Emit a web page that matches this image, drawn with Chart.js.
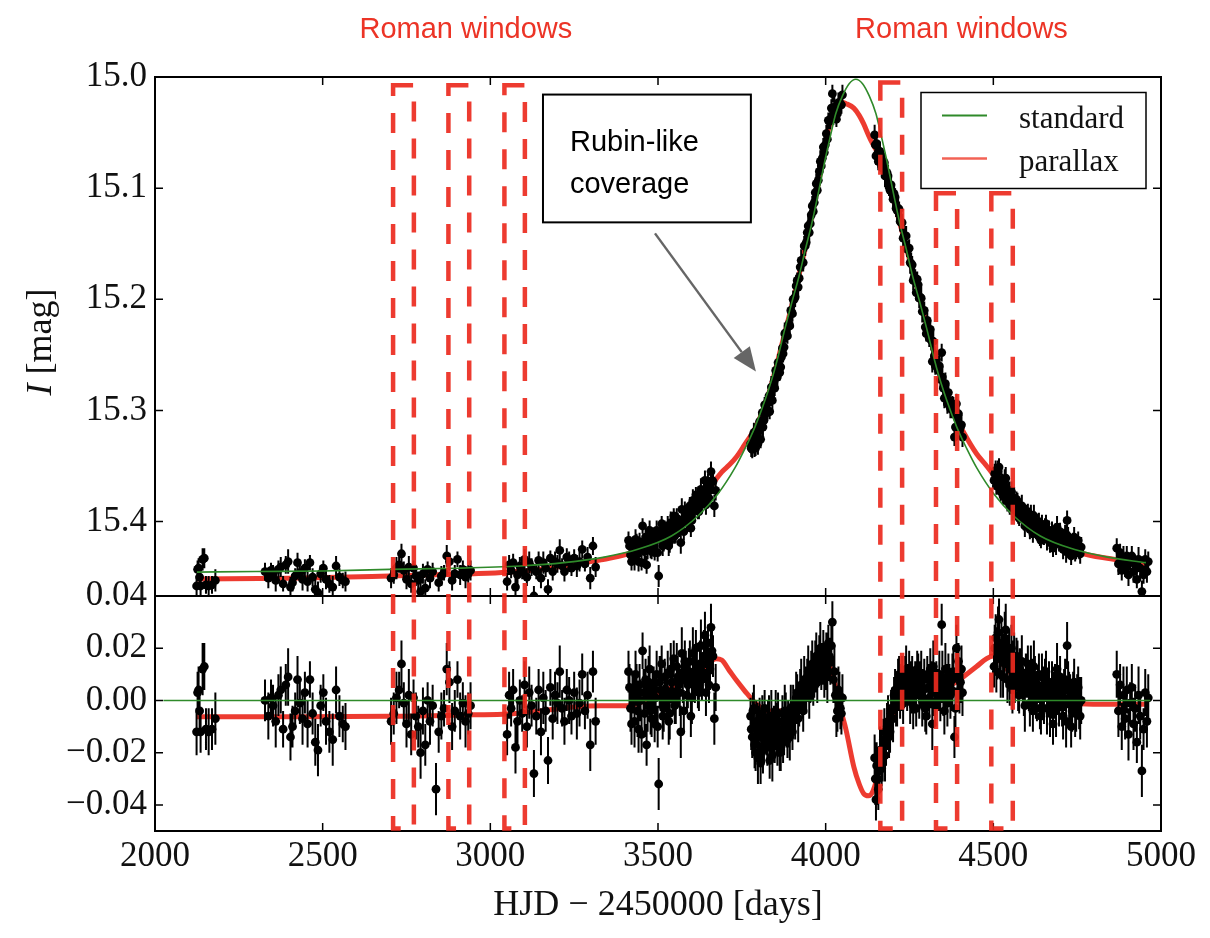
<!DOCTYPE html>
<html>
<head>
<meta charset="utf-8">
<title>Light curve with Roman windows</title>
<script src="https://cdn.jsdelivr.net/npm/chart.js@4.4.1/dist/chart.umd.min.js"></script>
<style>
  html, body { margin: 0; padding: 0; background: #fff; }
  #wrap { position: relative; width: 1210px; height: 938px; }
</style>
</head>
<body>
<div id="wrap"><canvas id="lc"></canvas></div>
<script>
// observations, one season per line (HJD - 2450000); the last four lines are the
// extra points of the densely sampled seasons
const obsDays = [
  2124, 2127, 2130, 2133, 2136, 2142, 2147, 2152, 2160, 2170, 2180,
  2328, 2338, 2346, 2352, 2360, 2368, 2375, 2382, 2390, 2397, 2404, 2410, 2418, 2425, 2432, 2440, 2447, 2455, 2462, 2470, 2478, 2486, 2494, 2502, 2510, 2520, 2530, 2540, 2550, 2560, 2568,
  2704, 2712, 2720, 2728, 2735, 2742, 2750, 2757, 2764, 2771, 2778, 2785, 2792, 2799, 2806, 2813, 2820, 2828, 2838, 2846, 2854, 2862, 2870, 2878, 2886, 2894, 2902, 2910, 2918, 2926, 2934, 2941,
  3050, 3056, 3062, 3068, 3075, 3081, 3088, 3095, 3102, 3109, 3116, 3123, 3130, 3137, 3144, 3151, 3158, 3165, 3172, 3179, 3186, 3193, 3200, 3207, 3214, 3221, 3228, 3235, 3242, 3250, 3258, 3266, 3274, 3282, 3290, 3298, 3306, 3314,
  3412, 3418, 3424, 3430, 3436, 3442, 3448, 3454, 3460, 3466, 3472, 3478, 3484, 3490, 3496, 3502, 3508, 3514, 3520, 3526, 3532, 3538, 3544, 3550, 3556, 3562, 3568, 3574, 3580, 3586, 3592, 3598, 3604, 3610, 3616, 3622, 3628, 3634, 3640, 3646, 3652, 3658, 3664, 3668, 3672,
  3776, 3781, 3786, 3791, 3796, 3801, 3806, 3811, 3816, 3821, 3826, 3831, 3836, 3841, 3846, 3851, 3856, 3861, 3866, 3871, 3876, 3881, 3886, 3891, 3896, 3901, 3906, 3912, 3918, 3924, 3930, 3936, 3942, 3948, 3954, 3960, 3966, 3972, 3978, 3984, 3990, 3996, 4002, 4008, 4014, 4020, 4026, 4032, 4038, 4044, 4050,
  4146, 4150, 4155, 4160, 4165, 4170, 4175, 4180, 4186, 4192, 4198, 4204, 4210, 4216, 4222, 4228, 4234, 4240, 4246, 4252, 4258, 4264, 4270, 4276, 4282, 4288, 4294, 4300, 4306, 4312, 4318, 4324, 4330, 4336, 4342, 4346, 4348, 4354, 4360, 4366, 4372, 4378, 4384, 4390, 4396, 4402, 4408,
  4502, 4507, 4512, 4517, 4522, 4527, 4532, 4537, 4542, 4547, 4552, 4557, 4562, 4567, 4572, 4577, 4582, 4588, 4594, 4600, 4606, 4612, 4618, 4624, 4630, 4636, 4642, 4648, 4654, 4660, 4666, 4672, 4678, 4684, 4690, 4696, 4702, 4708, 4714, 4720, 4726, 4732, 4738, 4744, 4750, 4756, 4762,
  4868, 4873, 4878, 4883, 4888, 4893, 4898, 4903, 4908, 4913, 4918, 4923, 4928, 4933, 4938, 4943, 4948, 4953, 4958, 4962,
  3415, 3421, 3427, 3433, 3439, 3445, 3451, 3457, 3463, 3469, 3475, 3481, 3487, 3493, 3499, 3505, 3511, 3517, 3523, 3529, 3535, 3541, 3547, 3553, 3559, 3565, 3571, 3577, 3583, 3589, 3595, 3601, 3607, 3613, 3619, 3625, 3631, 3637, 3643, 3649, 3655, 3661,
  3778, 3783, 3788, 3793, 3798, 3803, 3808, 3813, 3818, 3823, 3828, 3833, 3838, 3843, 3848, 3853, 3858, 3863, 3868, 3873, 3878, 3883, 3888, 3893, 3898, 3903, 3909, 3915, 3921, 3927, 3933, 3939, 3945, 3951, 3957, 3963, 3969, 3975, 3981, 3987, 3993, 3999, 4005, 4011, 4017, 4023, 4029, 4035, 4041, 4047,
  4148, 4152, 4157, 4162, 4167, 4172, 4177, 4183, 4189, 4195, 4201, 4207, 4213, 4219, 4225, 4231, 4237, 4243, 4249, 4255, 4261, 4267, 4273, 4279, 4285, 4291, 4297, 4303, 4309, 4315, 4321, 4327, 4333, 4339, 4351, 4357, 4363, 4369, 4375, 4381, 4387, 4393, 4399, 4405,
  4504, 4509, 4514, 4519, 4524, 4529, 4534, 4539, 4544, 4549, 4554, 4559, 4564, 4569, 4574, 4579, 4585, 4591, 4597, 4603, 4609, 4615, 4621, 4627, 4633, 4639, 4645, 4651, 4657, 4663, 4669, 4675, 4681, 4687, 4693, 4699, 4705, 4711, 4717, 4723, 4729, 4735, 4741, 4747, 4753, 4759
];
// I magnitude
const obsMag = [
  15.458, 15.443, 15.442, 15.450, 15.458, 15.434, 15.433, 15.457, 15.458, 15.457, 15.453,
  15.445, 15.451, 15.444, 15.447, 15.453, 15.443, 15.441, 15.456, 15.439, 15.436, 15.459, 15.455, 15.449, 15.437, 15.446, 15.452, 15.442, 15.454, 15.437, 15.450, 15.461, 15.464, 15.447, 15.442, 15.452, 15.456, 15.459, 15.440, 15.450, 15.453, 15.454,
  15.451, 15.448, 15.442, 15.439, 15.429, 15.444, 15.452, 15.441, 15.456, 15.442, 15.449, 15.453, 15.463, 15.447, 15.460, 15.443, 15.451, 15.445, 15.477, 15.455, 15.449, 15.446, 15.431, 15.436, 15.453, 15.447, 15.434, 15.448, 15.443, 15.450, 15.447, 15.444,
  15.454, 15.439, 15.444, 15.437, 15.459, 15.448, 15.440, 15.445, 15.434, 15.450, 15.437, 15.441, 15.467, 15.445, 15.435, 15.451, 15.437, 15.442, 15.461, 15.433, 15.445, 15.436, 15.438, 15.426, 15.440, 15.445, 15.432, 15.436, 15.442, 15.433, 15.440, 15.436, 15.425, 15.438, 15.432, 15.451, 15.422, 15.441,
  15.417, 15.430, 15.422, 15.434, 15.419, 15.436, 15.424, 15.404, 15.427, 15.439, 15.414, 15.424, 15.416, 15.428, 15.408, 15.449, 15.413, 15.422, 15.406, 15.413, 15.422, 15.401, 15.409, 15.413, 15.397, 15.403, 15.419, 15.398, 15.390, 15.401, 15.391, 15.406, 15.381, 15.390, 15.383, 15.391, 15.371, 15.380, 15.363, 15.373, 15.379, 15.355, 15.364, 15.386, 15.372,
  15.330, 15.335, 15.320, 15.334, 15.319, 15.318, 15.326, 15.302, 15.309, 15.299, 15.302, 15.287, 15.288, 15.291, 15.274, 15.264, 15.270, 15.259, 15.261, 15.244, 15.243, 15.230, 15.233, 15.222, 15.210, 15.213, 15.200, 15.188, 15.189, 15.171, 15.167, 15.152, 15.149, 15.134, 15.132, 15.116, 15.113, 15.096, 15.093, 15.076, 15.073, 15.068, 15.051, 15.039, 15.038, 15.015, 15.027, 15.038, 15.023, 15.025, 15.016,
  15.052, 15.071, 15.069, 15.072, 15.072, 15.082, 15.077, 15.089, 15.089, 15.102, 15.103, 15.105, 15.118, 15.118, 15.130, 15.131, 15.143, 15.143, 15.155, 15.167, 15.169, 15.180, 15.194, 15.187, 15.198, 15.211, 15.210, 15.231, 15.227, 15.227, 15.256, 15.251, 15.254, 15.264, 15.272, 15.248, 15.270, 15.289, 15.284, 15.284, 15.298, 15.297, 15.324, 15.294, 15.303, 15.315, 15.324,
  15.363, 15.354, 15.362, 15.351, 15.373, 15.364, 15.372, 15.361, 15.382, 15.372, 15.380, 15.390, 15.379, 15.387, 15.383, 15.397, 15.389, 15.395, 15.404, 15.395, 15.402, 15.394, 15.411, 15.401, 15.408, 15.400, 15.417, 15.408, 15.405, 15.416, 15.408, 15.415, 15.424, 15.411, 15.405, 15.419, 15.415, 15.425, 15.411, 15.399, 15.419, 15.431, 15.417, 15.427, 15.420, 15.424, 15.423,
  15.424, 15.438, 15.428, 15.444, 15.433, 15.442, 15.431, 15.448, 15.436, 15.431, 15.445, 15.439, 15.452, 15.434, 15.442, 15.463, 15.448, 15.434, 15.445, 15.436,
  15.422, 15.436, 15.424, 15.416, 15.429, 15.418, 15.437, 15.420, 15.414, 15.424, 15.408, 15.427, 15.414, 15.417, 15.428, 15.410, 15.402, 15.418, 15.411, 15.404, 15.418, 15.405, 15.395, 15.410, 15.400, 15.405, 15.389, 15.409, 15.392, 15.397, 15.386, 15.399, 15.387, 15.376, 15.390, 15.379, 15.383, 15.372, 15.385, 15.364, 15.372, 15.363,
  15.334, 15.323, 15.333, 15.320, 15.330, 15.310, 15.314, 15.315, 15.295, 15.300, 15.291, 15.301, 15.279, 15.280, 15.280, 15.268, 15.257, 15.266, 15.252, 15.249, 15.231, 15.232, 15.224, 15.224, 15.211, 15.200, 15.198, 15.183, 15.181, 15.165, 15.167, 15.152, 15.140, 15.140, 15.124, 15.121, 15.104, 15.102, 15.085, 15.080, 15.063, 15.061, 15.056, 15.040, 15.028, 15.034, 15.033, 15.033, 15.023, 15.025,
  15.061, 15.060, 15.076, 15.067, 15.080, 15.076, 15.089, 15.086, 15.099, 15.097, 15.110, 15.108, 15.120, 15.119, 15.131, 15.145, 15.143, 15.155, 15.154, 15.168, 15.183, 15.181, 15.182, 15.199, 15.199, 15.211, 15.225, 15.219, 15.235, 15.237, 15.238, 15.260, 15.259, 15.260, 15.280, 15.276, 15.294, 15.291, 15.299, 15.297, 15.315, 15.307, 15.318, 15.313,
  15.357, 15.368, 15.355, 15.367, 15.362, 15.377, 15.363, 15.375, 15.372, 15.386, 15.373, 15.382, 15.389, 15.380, 15.393, 15.387, 15.386, 15.399, 15.393, 15.391, 15.407, 15.399, 15.395, 15.407, 15.404, 15.414, 15.403, 15.411, 15.402, 15.410, 15.419, 15.408, 15.414, 15.420, 15.411, 15.409, 15.419, 15.415, 15.427, 15.414, 15.417, 15.425, 15.414, 15.424, 15.417, 15.429
];
// residuals from the standard model (mag)
const obsRes = [
  -0.012, 0.003, 0.004, -0.004, -0.012, 0.012, 0.013, -0.011, -0.012, -0.011, -0.007,
  0.000, -0.006, 0.001, -0.002, -0.008, 0.002, 0.004, -0.011, 0.006, 0.009, -0.014, -0.010, -0.004, 0.008, -0.001, -0.007, 0.003, -0.009, 0.008, -0.005, -0.016, -0.019, -0.002, 0.003, -0.008, -0.012, -0.015, 0.004, -0.006, -0.009, -0.010,
  -0.008, -0.005, 0.001, 0.004, 0.014, -0.001, -0.009, 0.002, -0.013, 0.001, -0.006, -0.010, -0.020, -0.004, -0.017, 0.000, -0.008, -0.002, -0.034, -0.012, -0.006, -0.003, 0.012, 0.007, -0.010, -0.004, 0.008, -0.006, -0.001, -0.008, -0.005, -0.002,
  -0.013, 0.002, -0.003, 0.004, -0.018, -0.008, 0.000, -0.005, 0.006, -0.010, 0.003, -0.002, -0.028, -0.006, 0.004, -0.012, 0.001, -0.004, -0.023, 0.005, -0.007, 0.002, -0.001, 0.011, -0.003, -0.008, 0.004, 0.000, -0.006, 0.003, -0.005, -0.001, 0.010, -0.004, 0.002, -0.017, 0.011, -0.008,
  0.011, -0.003, 0.004, -0.008, 0.006, -0.011, 0.000, 0.019, -0.005, -0.017, 0.007, -0.004, 0.003, -0.009, 0.010, -0.032, 0.004, -0.006, 0.009, 0.001, -0.008, 0.012, 0.003, -0.002, 0.013, 0.006, -0.012, 0.008, 0.015, 0.002, 0.011, -0.006, 0.018, 0.007, 0.013, 0.003, 0.021, 0.010, 0.025, 0.014, 0.006, 0.028, 0.017, -0.007, 0.005,
  -0.006, -0.014, -0.003, -0.020, -0.009, -0.012, -0.024, -0.005, -0.015, -0.010, -0.018, -0.007, -0.013, -0.021, -0.009, -0.004, -0.016, -0.011, -0.019, -0.008, -0.013, -0.006, -0.015, -0.010, -0.003, -0.012, -0.005, 0.001, -0.007, 0.004, 0.000, 0.008, 0.003, 0.011, 0.006, 0.014, 0.009, 0.017, 0.012, 0.020, 0.014, 0.010, 0.018, 0.022, 0.015, 0.030, 0.011, -0.007, 0.004, -0.003, 0.001,
  -0.022, -0.038, -0.030, -0.027, -0.020, -0.024, -0.012, -0.017, -0.008, -0.012, -0.004, 0.002, -0.002, 0.006, 0.002, 0.009, 0.004, 0.012, 0.006, 0.001, 0.009, 0.004, -0.003, 0.010, 0.006, 0.000, 0.008, -0.006, 0.005, 0.012, -0.009, 0.003, 0.007, 0.003, 0.001, 0.029, 0.009, -0.004, 0.006, 0.011, 0.002, 0.008, -0.014, 0.020, 0.015, 0.007, 0.003,
  0.013, 0.024, 0.018, 0.031, 0.010, 0.021, 0.015, 0.027, 0.008, 0.019, 0.012, 0.004, 0.016, 0.009, 0.014, 0.002, 0.011, 0.006, -0.002, 0.009, 0.003, 0.012, -0.004, 0.007, 0.001, 0.010, -0.006, 0.004, 0.008, -0.003, 0.006, 0.000, -0.009, 0.005, 0.012, -0.002, 0.003, -0.006, 0.008, 0.021, 0.001, -0.010, 0.004, -0.005, 0.002, -0.001, 0.000,
  0.010, -0.004, 0.006, -0.010, 0.002, -0.007, 0.004, -0.013, -0.001, 0.005, -0.009, -0.003, -0.016, 0.002, -0.006, -0.027, -0.011, 0.003, -0.008, 0.001,
  0.005, -0.009, 0.002, 0.010, -0.004, 0.006, -0.013, 0.003, 0.008, -0.002, 0.012, -0.007, 0.005, 0.001, -0.010, 0.007, 0.014, -0.003, 0.004, 0.010, -0.005, 0.007, 0.016, 0.000, 0.009, 0.003, 0.018, -0.004, 0.012, 0.006, 0.015, 0.001, 0.011, 0.020, 0.005, 0.014, 0.008, 0.017, 0.003, 0.022, 0.012, 0.019,
  -0.011, -0.004, -0.017, -0.008, -0.022, -0.006, -0.014, -0.019, -0.003, -0.013, -0.009, -0.023, -0.006, -0.012, -0.017, -0.010, -0.005, -0.020, -0.012, -0.016, -0.004, -0.011, -0.008, -0.014, -0.007, -0.002, -0.006, 0.003, -0.002, 0.006, -0.004, 0.004, 0.009, 0.001, 0.010, 0.005, 0.013, 0.007, 0.016, 0.011, 0.019, 0.013, 0.009, 0.017, 0.021, 0.008, 0.002, -0.004, 0.002, -0.005,
  -0.030, -0.025, -0.034, -0.019, -0.026, -0.015, -0.021, -0.010, -0.014, -0.003, -0.007, 0.004, 0.000, 0.010, 0.005, -0.001, 0.008, 0.003, 0.011, 0.005, -0.002, 0.007, 0.012, 0.002, 0.009, 0.004, -0.003, 0.010, 0.001, 0.006, 0.013, -0.002, 0.005, 0.010, 0.002, 0.012, -0.001, 0.007, 0.004, 0.011, -0.003, 0.009, 0.002, 0.012,
  0.020, 0.011, 0.026, 0.016, 0.022, 0.009, 0.024, 0.014, 0.018, 0.006, 0.020, 0.013, 0.007, 0.017, 0.005, 0.012, 0.015, 0.003, 0.010, 0.014, -0.001, 0.008, 0.013, 0.002, 0.006, -0.003, 0.009, 0.001, 0.011, 0.004, -0.005, 0.007, 0.002, -0.004, 0.006, 0.009, -0.001, 0.004, -0.008, 0.006, 0.003, -0.004, 0.007, -0.002, 0.005, -0.006
];
// photometric errors (mmag)
const obsErrMmag = [
  9, 8, 9, 7, 8, 10, 9, 8, 9, 8, 10,
  8, 9, 7, 8, 10, 8, 9, 7, 8, 11, 9, 8, 7, 9, 8, 10, 8, 9, 7, 8, 9, 10, 8, 7, 9, 8, 10, 9, 8, 7, 9,
  9, 8, 10, 7, 9, 8, 9, 10, 8, 7, 9, 8, 10, 9, 8, 7, 9, 8, 10, 8, 9, 7, 10, 8, 9, 8, 7, 9, 8, 10, 8, 9,
  8, 9, 7, 8, 10, 9, 8, 7, 9, 8, 10, 8, 9, 7, 8, 9, 10, 8, 9, 7, 8, 9, 8, 10, 7, 9, 8, 9, 7, 8, 10, 9, 8, 7, 9, 10, 8, 9,
  8, 9, 7, 10, 8, 9, 8, 7, 9, 8, 10, 9, 8, 7, 9, 10, 8, 9, 7, 8, 9, 10, 8, 7, 9, 8, 10, 9, 8, 7, 9, 8, 10, 8, 9, 7, 10, 8, 9, 8, 7, 9, 8, 10, 9,
  7, 8, 9, 7, 8, 10, 8, 7, 9, 8, 7, 9, 8, 10, 7, 8, 9, 7, 8, 10, 8, 9, 7, 8, 9, 7, 8, 10, 9, 8, 7, 9, 8, 10, 7, 9, 8, 9, 7, 10, 8, 9, 8, 7, 9, 8, 10, 7, 9, 8, 9,
  9, 8, 10, 9, 8, 7, 9, 8, 10, 8, 9, 7, 8, 10, 9, 8, 7, 9, 8, 10, 8, 9, 7, 8, 9, 10, 8, 7, 9, 8, 10, 9, 8, 7, 9, 8, 10, 9, 8, 7, 9, 10, 8, 9, 7, 8, 9,
  8, 9, 10, 8, 9, 7, 8, 10, 9, 8, 7, 9, 10, 8, 9, 7, 8, 9, 10, 8, 7, 9, 8, 10, 9, 8, 7, 9, 8, 10, 9, 7, 8, 9, 10, 8, 7, 9, 8, 9, 10, 8, 7, 9, 8, 10, 9,
  9, 10, 8, 9, 11, 8, 9, 10, 8, 9, 10, 9, 8, 11, 9, 10, 8, 9, 10, 9,
  9, 8, 7, 9, 10, 8, 7, 9, 8, 10, 9, 7, 8, 9, 8, 10, 7, 9, 8, 9, 10, 8, 7, 9, 8, 9, 10, 8, 7, 9, 8, 10, 9, 7, 8, 9, 8, 10, 9, 7, 8, 9,
  8, 7, 9, 8, 10, 7, 8, 9, 7, 8, 9, 7, 10, 8, 7, 9, 8, 7, 9, 8, 10, 7, 8, 9, 7, 8, 9, 7, 8, 10, 8, 9, 7, 8, 9, 7, 10, 8, 9, 7, 8, 9, 10, 7, 8, 9, 7, 8, 9, 8,
  10, 9, 8, 9, 7, 8, 10, 9, 8, 7, 9, 8, 10, 7, 9, 8, 9, 7, 8, 10, 9, 8, 7, 9, 10, 8, 9, 7, 8, 9, 10, 8, 7, 9, 8, 10, 9, 7, 8, 9, 8, 10, 7, 9,
  9, 8, 10, 7, 9, 8, 10, 9, 7, 8, 9, 10, 8, 7, 9, 8, 10, 9, 8, 7, 9, 8, 10, 9, 7, 8, 9, 10, 8, 7, 9, 8, 9, 10, 7, 8, 9, 8, 10, 9, 7, 8, 9, 10, 8, 9
];

// standard (no parallax) model
const stdDays = [2125, 2300, 2500, 2700, 2900, 3090, 3220, 3340, 3440, 3540, 3619, 3679, 3729, 3760, 3789, 3820, 3849, 3879, 3898, 3920, 3938, 3960, 3979, 4000, 4018, 4030, 4050, 4070, 4090, 4110, 4130, 4150, 4162, 4180, 4201, 4220, 4242, 4260, 4282, 4301, 4331, 4360, 4391, 4420, 4451, 4501, 4561, 4640, 4740, 4840, 4955];
const stdMag = [15.4455, 15.445, 15.4445, 15.443, 15.442, 15.440, 15.437, 15.432, 15.425, 15.413, 15.395, 15.375, 15.352, 15.334, 15.315, 15.290, 15.262, 15.226, 15.204, 15.180, 15.157, 15.130, 15.103, 15.072, 15.048, 15.033, 15.017, 15.006, 15.002, 15.006, 15.017, 15.033, 15.048, 15.072, 15.103, 15.130, 15.157, 15.180, 15.204, 15.226, 15.262, 15.290, 15.315, 15.334, 15.352, 15.375, 15.395, 15.413, 15.425, 15.432, 15.437];
// parallax model
const parDays = [2125, 2400, 2700, 2950, 3050, 3150, 3250, 3330, 3410, 3480, 3540, 3600, 3640, 3673, 3690, 3713, 3735, 3758, 3793, 3830, 3870, 3910, 3950, 3985, 4009, 4020, 4038, 4050, 4061, 4084, 4100, 4113, 4128, 4140, 4153, 4170, 4190, 4210, 4240, 4280, 4340, 4390, 4410, 4450, 4480, 4500, 4540, 4580, 4630, 4700, 4760, 4850, 4955];
const parMag = [15.4517, 15.451, 15.449, 15.447, 15.4457, 15.443, 15.4385, 15.4345, 15.429, 15.420, 15.408, 15.390, 15.376, 15.362, 15.3555, 15.349, 15.3415, 15.331, 15.314, 15.285, 15.240, 15.192, 15.138, 15.085, 15.046, 15.034, 15.027, 15.023, 15.024, 15.028, 15.0345, 15.042, 15.0525, 15.060, 15.067, 15.079, 15.098, 15.119, 15.153, 15.198, 15.266, 15.307, 15.319, 15.339, 15.350, 15.358, 15.377, 15.392, 15.408, 15.421, 15.4283, 15.4335, 15.4385];
const parRes = [-0.0062, -0.0062, -0.0061, -0.0055, -0.0052, -0.0040, -0.0025, -0.0020, -0.0020, 0.0010, 0.0050, 0.0090, 0.0130, 0.0160, 0.0155, 0.0114, 0.0075, 0.0038, -0.0013, -0.0040, -0.0040, -0.0010, 0.0040, 0.0090, 0.0127, 0.0110, 0.0000, -0.0060, -0.0114, -0.0254, -0.0320, -0.0356, -0.0365, -0.0350, -0.0300, -0.0210, -0.0110, -0.0030, 0.0020, 0.0040, 0.0050, 0.0070, 0.0090, 0.0130, 0.0160, 0.0170, 0.0120, 0.0070, 0.0030, 0.0000, -0.0013, -0.0015, -0.0015];
const stdResDays = [2025, 4968];
const stdRes = [0, 0];

// Roman observing windows
const romanStart = [2710, 2875, 3042, 4163, 4329, 4494];
const romanEnd = [2772, 2937, 3103, 4228, 4392, 4558];
const romanTopMag = [15.0075, 15.0075, 15.0075, 15.005, 15.1045, 15.1045];
const romanBottomRes = -0.049;
const romanLabelDays = [2927, 4405];

const RED = 'rgba(236, 42, 30, 0.92)';
const RED_LEGEND = 'rgba(240, 70, 55, 0.85)';
const GREEN = '#2f8a2a';
const INK = '#111';
const SERIF = '"Liberation Serif", "Times New Roman", serif';
const SANS = '"Liberation Sans", Arial, sans-serif';

Chart.defaults.font.family = SERIF;

function pts(xs, ys) {
  return xs.map((x, i) => ({ x: x, y: ys[i] }));
}

const errs = obsErrMmag.map(e => e / 1000);

function lineSet(label, xs, ys, axis, color, width, order) {
  return {
    label: label, data: pts(xs, ys), yAxisID: axis, showLine: true,
    borderColor: color, borderWidth: width, pointRadius: 0, fill: false,
    cubicInterpolationMode: 'monotone', order: order
  };
}

function dotSet(label, ys, axis) {
  return {
    label: label, data: pts(obsDays, ys), yAxisID: axis,
    pointRadius: 4.4, pointBackgroundColor: '#000', pointBorderWidth: 0,
    errors: errs, order: 1
  };
}

const figurePlugin = {
  id: 'figure',
  beforeDatasetDraw(chart, args) {
    const ctx = chart.ctx;
    const xs = args.meta.xScale, ys = args.meta.yScale;
    ctx.save();
    ctx.beginPath();
    ctx.rect(xs.left, ys.top, xs.right - xs.left, ys.bottom - ys.top);
    ctx.clip();
    const ds = chart.data.datasets[args.index];
    if (!ds.errors) return;
    ctx.strokeStyle = '#000';
    ctx.lineWidth = 2;
    ctx.beginPath();
    ds.data.forEach((p, i) => {
      const e = ds.errors[i];
      if (e == null) return;
      const x = xs.getPixelForValue(p.x);
      ctx.moveTo(x, ys.getPixelForValue(p.y - e));
      ctx.lineTo(x, ys.getPixelForValue(p.y + e));
    });
    ctx.stroke();
  },
  afterDatasetDraw(chart) {
    chart.ctx.restore();
  },
  afterDraw(chart) {
    const ctx = chart.ctx;
    const x = chart.scales.x, yM = chart.scales.yMag, yR = chart.scales.yRes;
    ctx.save();

    // panel frames with inward ticks
    [yM, yR].forEach(ys => {
      ctx.strokeStyle = '#000';
      ctx.lineWidth = 2;
      ctx.strokeRect(x.left, ys.top, x.right - x.left, ys.bottom - ys.top);
      ctx.lineWidth = 1.5;
      ctx.beginPath();
      x.ticks.forEach(t => {
        const p = x.getPixelForValue(t.value);
        ctx.moveTo(p, ys.top); ctx.lineTo(p, ys.top + 8);
        ctx.moveTo(p, ys.bottom); ctx.lineTo(p, ys.bottom - 8);
      });
      ys.ticks.forEach(t => {
        const p = ys.getPixelForValue(t.value);
        ctx.moveTo(x.left, p); ctx.lineTo(x.left + 8, p);
        ctx.moveTo(x.right, p); ctx.lineTo(x.right - 8, p);
      });
      ctx.stroke();
    });

    // Roman windows
    ctx.strokeStyle = RED;
    ctx.lineWidth = 4.5;
    ctx.setLineDash([20, 17]);
    romanStart.forEach((s, i) => {
      const l = x.getPixelForValue(s), r = x.getPixelForValue(romanEnd[i]);
      const t = yM.getPixelForValue(romanTopMag[i]), b = yR.getPixelForValue(romanBottomRes);
      ctx.strokeRect(l, t, r - l, b - t);
    });
    ctx.setLineDash([]);
    ctx.fillStyle = 'rgb(236, 52, 38)';
    ctx.font = '29px ' + SANS;
    ctx.textAlign = 'center';
    ctx.textBaseline = 'alphabetic';
    romanLabelDays.forEach(d => ctx.fillText('Roman windows', x.getPixelForValue(d), 38));

    // Rubin annotation
    const bx1 = x.getPixelForValue(3157), bx2 = x.getPixelForValue(3777);
    const by1 = yM.getPixelForValue(15.0158), by2 = yM.getPixelForValue(15.1308);
    ctx.fillStyle = '#fff';
    ctx.fillRect(bx1, by1, bx2 - bx1, by2 - by1);
    ctx.strokeStyle = '#000';
    ctx.lineWidth = 2;
    ctx.strokeRect(bx1, by1, bx2 - bx1, by2 - by1);
    ctx.fillStyle = '#000';
    ctx.textAlign = 'left';
    ctx.fillText('Rubin-like', bx1 + 27, by1 + 56);
    ctx.fillText('coverage', bx1 + 27, by1 + 98);

    const ax1 = x.getPixelForValue(3491), ay1 = yM.getPixelForValue(15.1407);
    const ax2 = x.getPixelForValue(3792), ay2 = yM.getPixelForValue(15.265);
    const ang = Math.atan2(ay2 - ay1, ax2 - ax1);
    const hl = 24, hw = 10;
    ctx.strokeStyle = '#666';
    ctx.fillStyle = '#666';
    ctx.lineWidth = 2.5;
    ctx.beginPath();
    ctx.moveTo(ax1, ay1);
    ctx.lineTo(ax2 - hl * Math.cos(ang), ay2 - hl * Math.sin(ang));
    ctx.stroke();
    ctx.beginPath();
    ctx.moveTo(ax2, ay2);
    ctx.lineTo(ax2 - hl * Math.cos(ang) + hw * Math.sin(ang), ay2 - hl * Math.sin(ang) - hw * Math.cos(ang));
    ctx.lineTo(ax2 - hl * Math.cos(ang) - hw * Math.sin(ang), ay2 - hl * Math.sin(ang) + hw * Math.cos(ang));
    ctx.closePath();
    ctx.fill();

    // legend
    const lw = 225, lh = 96;
    const lx = x.right - 15 - lw, ly = yM.top + 15.5;
    ctx.fillStyle = '#fff';
    ctx.fillRect(lx, ly, lw, lh);
    ctx.strokeStyle = '#000';
    ctx.lineWidth = 1.5;
    ctx.strokeRect(lx, ly, lw, lh);
    const items = [
      { text: chart.data.datasets[0].label, color: GREEN, width: 2, dy: 23 },
      { text: chart.data.datasets[2].label, color: RED_LEGEND, width: 2.5, dy: 66 }
    ];
    ctx.font = '31px ' + SERIF;
    items.forEach(it => {
      ctx.strokeStyle = it.color;
      ctx.lineWidth = it.width;
      ctx.beginPath();
      ctx.moveTo(lx + 21, ly + it.dy);
      ctx.lineTo(lx + 66, ly + it.dy);
      ctx.stroke();
      ctx.fillStyle = INK;
      ctx.fillText(it.text, lx + 98, ly + it.dy + 12);
    });

    // y title of the top panel: italic I
    ctx.save();
    ctx.translate(42, 342);
    ctx.rotate(-Math.PI / 2);
    ctx.textBaseline = 'middle';
    ctx.textAlign = 'left';
    const fi = 'italic 36px ' + SERIF, fr = '36px ' + SERIF;
    ctx.font = fi;
    const w1 = ctx.measureText('I').width;
    ctx.font = fr;
    const w2 = ctx.measureText(' [mag]').width;
    const s = -(w1 + w2) / 2;
    ctx.fillStyle = INK;
    ctx.font = fi;
    ctx.fillText('I', s, 0);
    ctx.font = fr;
    ctx.fillText(' [mag]', s + w1, 0);
    ctx.restore();

    ctx.restore();
  }
};

function resLabel(v) {
  if (Math.abs(v) < 1e-9) return '0.00';
  return (v < 0 ? '\u2212' : '') + Math.abs(v).toFixed(2);
}

new Chart(document.getElementById('lc'), {
  type: 'scatter',
  data: {
    datasets: [
      lineSet('standard', stdDays, stdMag, 'yMag', GREEN, 1.6, 0),
      dotSet('data', obsMag, 'yMag'),
      lineSet('parallax', parDays, parMag, 'yMag', RED, 5, 2),
      lineSet('standard res', stdResDays, stdRes, 'yRes', GREEN, 1.6, 0),
      dotSet('data res', obsRes, 'yRes'),
      lineSet('parallax res', parDays, parRes, 'yRes', RED, 5, 2)
    ]
  },
  options: {
    responsive: true,
    maintainAspectRatio: false,
    animation: false,
    events: [],
    layout: { padding: { left: 0, right: 49, top: 77, bottom: 0 } },
    plugins: { legend: { display: false }, tooltip: { enabled: false } },
    scales: {
      x: {
        type: 'linear', position: 'bottom', min: 2000, max: 5000,
        grid: { display: false, drawTicks: false }, border: { display: false },
        ticks: { stepSize: 500, padding: 5, color: INK, font: { size: 35 }, maxRotation: 0, autoSkip: false, callback: v => String(v) },
        title: { display: true, text: 'HJD \u2212 2450000 [days]', color: INK, font: { size: 36 }, padding: { top: 0, bottom: 11 } },
        afterFit: s => { s.height = 107; }
      },
      yRes: {
        type: 'linear', position: 'left', stack: 'lc', stackWeight: 235,
        min: -0.05, max: 0.04,
        grid: { display: false, drawTicks: false }, border: { display: false },
        ticks: { stepSize: 0.02, includeBounds: false, padding: 8, color: INK, font: { size: 35 }, autoSkip: false, callback: resLabel },
        afterFit: s => { s.width = 155; }
      },
      yMag: {
        type: 'linear', position: 'left', stack: 'lc', stackWeight: 519,
        min: 15.0, max: 15.467, reverse: true,
        grid: { display: false, drawTicks: false }, border: { display: false },
        ticks: { stepSize: 0.1, includeBounds: false, padding: 8, color: INK, font: { size: 35 }, autoSkip: false, callback: v => v.toFixed(1) },
        afterFit: s => { s.width = 155; }
      }
    }
  },
  plugins: [figurePlugin]
});
</script>
</body>
</html>
